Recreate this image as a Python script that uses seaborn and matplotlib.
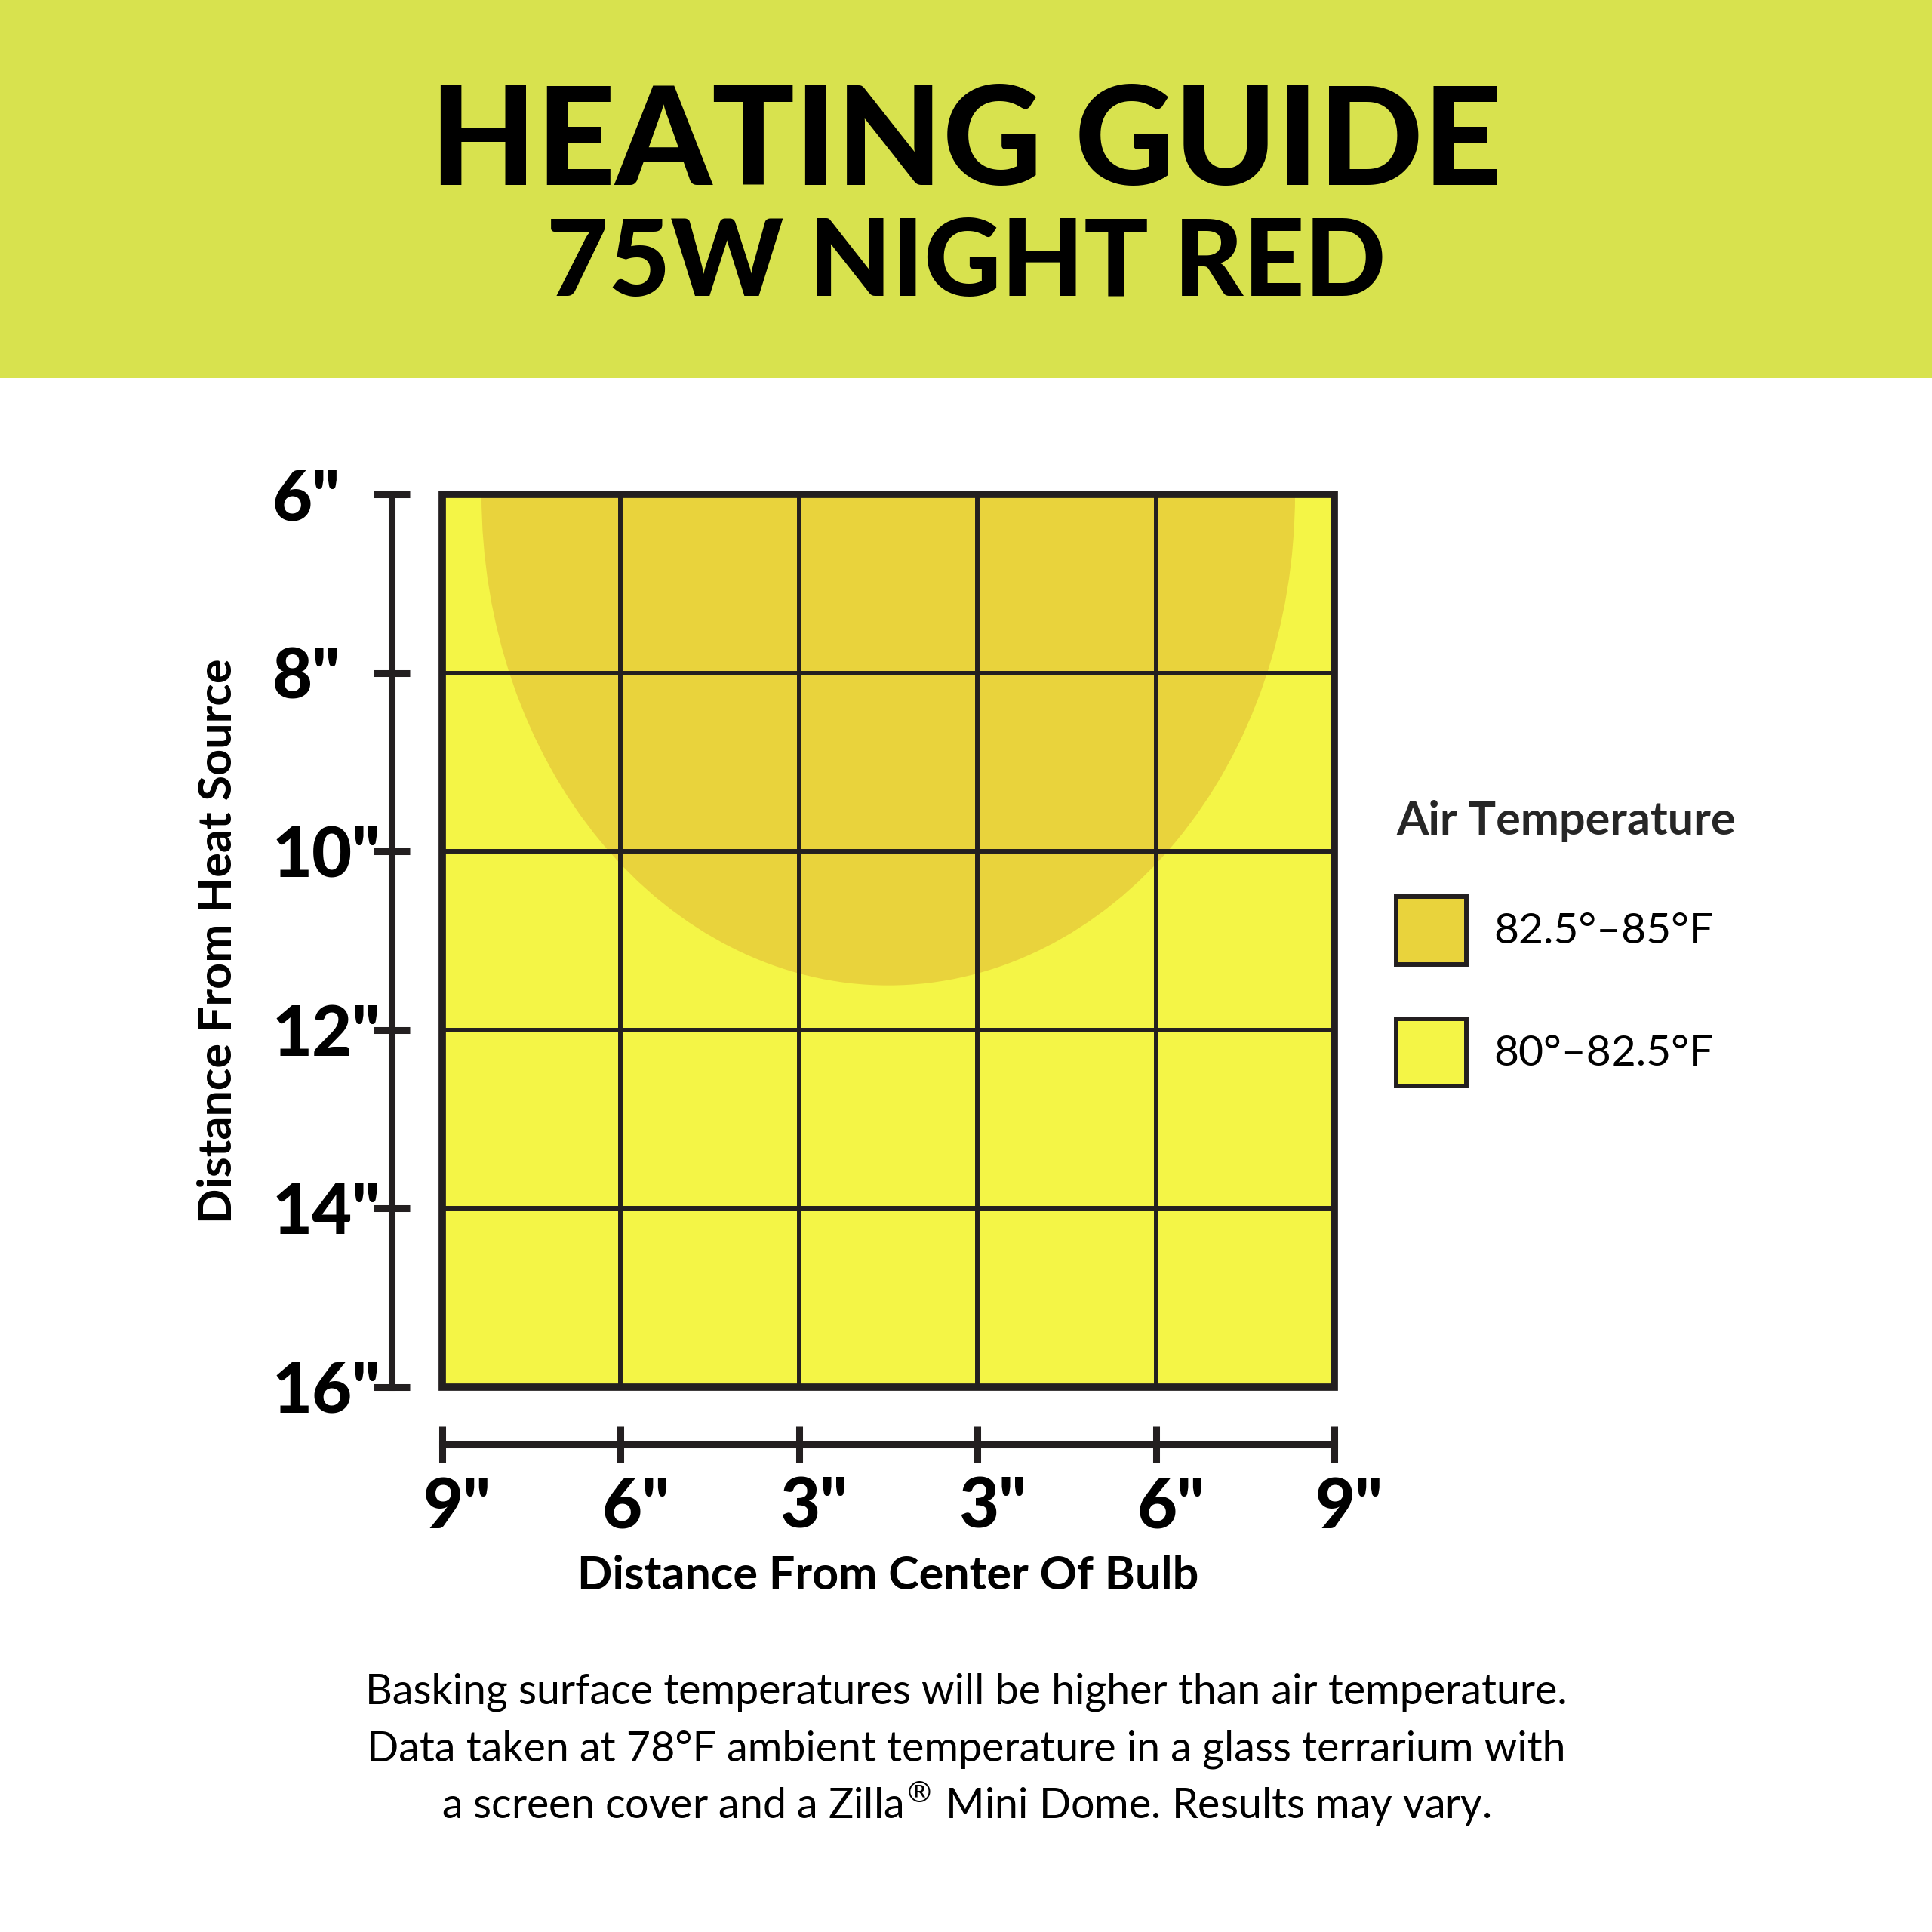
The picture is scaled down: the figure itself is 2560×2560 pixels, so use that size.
import matplotlib
matplotlib.use("Agg")
import matplotlib.pyplot as plt
import seaborn as sns
from matplotlib.patches import Ellipse, Rectangle, Patch
from matplotlib.transforms import ScaledTranslation

# chart values
x_tick_pos = [0, 1, 2, 3, 4, 5]
x_tick_labels = ['9"', '6"', '3"', '3"', '6"', '9"']
y_ticks = [6, 8, 10, 12, 14, 16]
y_tick_labels = ['6"', '8"', '10"', '12"', '14"', '16"']
zone_labels = ['82.5°–85°F', '80°–82.5°F']
zone_colors = ['#E9D33C', '#F4F546']
# warm zone: dome hanging under the bulb (x in grid cells, y in inches)
dome_center_x = 2.5
dome_half_width = 2.28
dome_top = 6
dome_bottom = 11.5

ink = '#231f20'

sns.set_theme(style='white')
plt.rcParams['font.family'] = ['Lato', 'DejaVu Sans']
plt.rcParams['mathtext.fontset'] = 'dejavusans'

fig = plt.figure(figsize=(25.6, 25.6), dpi=100)
fig.patch.set_facecolor('white')

# header band
fig.add_artist(Rectangle((0, 1 - 501 / 2560), 1, 501 / 2560, transform=fig.transFigure,
                         facecolor='#D8E24E', edgecolor='none', zorder=0))
fig.text(0.5, 1 - 245 / 2560, 'HEATING GUIDE', ha='center', va='baseline',
         fontsize=131, fontweight='black', color='black')
fig.text(0.5, 1 - 392 / 2560, '75W NIGHT RED', ha='center', va='baseline',
         fontsize=102, fontweight='black', color='black')

ax = fig.add_axes([586 / 2560, 1 - 1838 / 2560, 1182 / 2560, 1183 / 2560])
ax.set_xlim(0, 5)
ax.set_ylim(16, 6)
ax.set_facecolor(zone_colors[1])

ax.add_patch(Ellipse((dome_center_x, dome_top), 2 * dome_half_width,
                     2 * (dome_bottom - dome_top), facecolor=zone_colors[0],
                     edgecolor='none', zorder=1))

for x in x_tick_pos[1:-1]:
    ax.axvline(x, color=ink, lw=4.3, zorder=2)
for y in y_ticks[1:-1]:
    ax.axhline(y, color=ink, lw=4.3, zorder=2)
ax.add_patch(Rectangle((0, 6), 5, 10, fill=False, edgecolor=ink, lw=7,
                       joinstyle='miter', clip_on=False, zorder=3))

sns.despine(ax=ax, offset={'left': 48.6, 'bottom': 55})
for side in ['left', 'bottom']:
    ax.spines[side].set_linewidth(6.5)
    ax.spines[side].set_color(ink)

ax.set_xticks(x_tick_pos, x_tick_labels)
ax.set_yticks(y_ticks, y_tick_labels)
ax.tick_params(axis='both', direction='inout', length=35, width=6.5, color=ink,
               labelsize=66, labelcolor='black', left=True, bottom=True)
ax.tick_params(axis='x', pad=13)
ax.tick_params(axis='y', pad=96)
for lab in ax.get_xticklabels():
    lab.set_fontweight('black')
    lab.set_transform(lab.get_transform() + ScaledTranslation(0.2, 0, fig.dpi_scale_trans))
for lab in ax.get_yticklabels():
    lab.set_fontweight('black')
    lab.set_ha('left')

ax.set_xlabel('Distance From Center Of Bulb', fontsize=44, fontweight='bold', color='black')
ax.set_ylabel('Distance From Heat Source', fontsize=44, fontweight='bold', color='black')
ax.xaxis.set_label_coords(0.5, -0.188)
ax.yaxis.set_label_coords(-0.228, 0.5)

handles = [Patch(facecolor=c, edgecolor=ink, linewidth=4.3) for c in zone_colors]
leg = ax.legend(handles, zone_labels, title='Air Temperature', loc='upper left',
                bbox_to_anchor=(1850 / 2560, 1 - 1060 / 2560), bbox_transform=fig.transFigure,
                frameon=False, fontsize=40, handlelength=1.68, handleheight=2.1,
                labelspacing=1.3, handletextpad=0.65, borderpad=0, borderaxespad=0,
                alignment='left',
                title_fontproperties={'size': 44, 'weight': 'bold', 'family': ['Lato']})
for t in leg.get_texts():
    t.set_fontsize(41)
    t.set_color('black')

foot = [
    'Basking surface temperatures will be higher than air temperature.',
    'Data taken at 78°F ambient temperature in a glass terrarium with',
    r'a screen cover and a Zilla$^{\circledR}$ Mini Dome. Results may vary.',
]
for i, line in enumerate(foot):
    fig.text(0.5, 1 - (2258 + 75.5 * i) / 2560, line, ha='center', va='baseline',
             fontsize=40, color='black')

fig.savefig('out.png', dpi=100, facecolor='white')
